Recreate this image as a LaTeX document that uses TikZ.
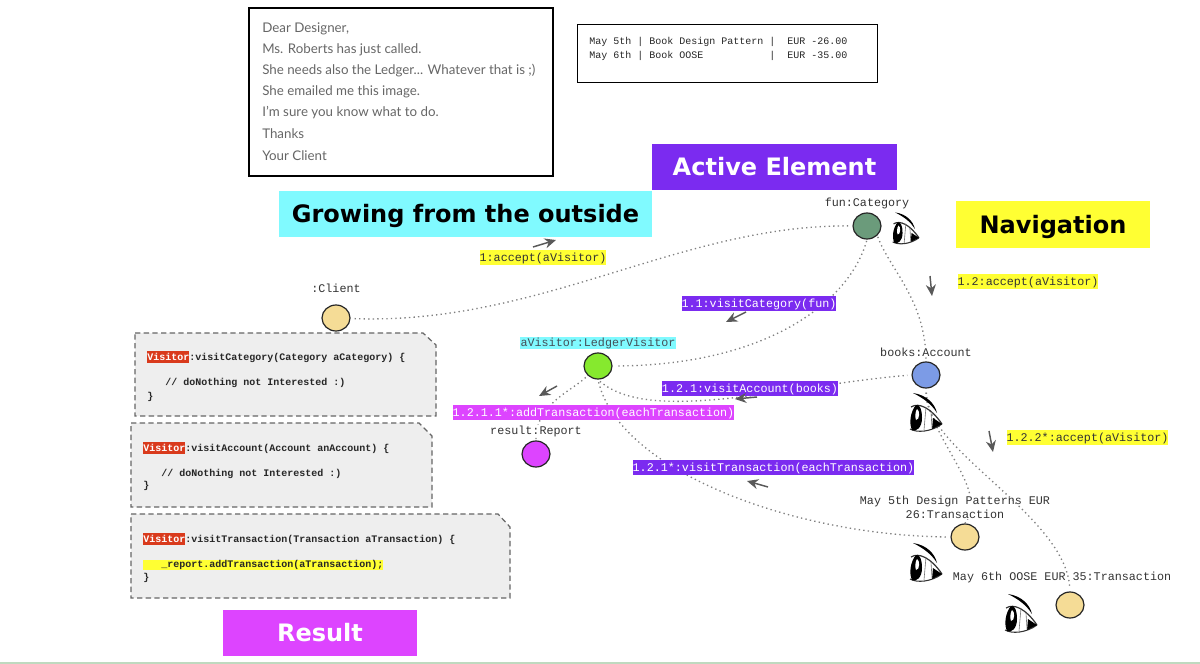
\documentclass[tikz,border=0pt]{standalone}
\usepackage{fontspec}
\setmainfont{Lato}
\setsansfont{DejaVu Sans}
\setmonofont{Liberation Mono}
\usetikzlibrary{arrows.meta,positioning,shapes.geometric}
\definecolor{violetbar}{HTML}{7B2BF0}
\definecolor{cyanbar}{HTML}{80FAFF}
\definecolor{yellowbar}{HTML}{FFFF33}
\definecolor{magentabar}{HTML}{DD44FF}
\definecolor{redbar}{HTML}{D93A1C}
\definecolor{notefill}{HTML}{EEEEEE}
\definecolor{funfill}{HTML}{6B9B7B}
\definecolor{plainfill}{HTML}{F5DC96}
\definecolor{visitorfill}{HTML}{86E92E}
\definecolor{booksfill}{HTML}{7C9BE6}
\newcommand{\vis}{{\setlength{\fboxsep}{0pt}\colorbox{redbar}{\rule[-2pt]{0pt}{9pt}\textcolor{white}{Visitor}}}}
\tikzset{
  object/.style={ellipse,draw=black!85,line width=0.9pt,minimum width=21pt,minimum height=19.5pt,inner sep=0pt},
  objname/.style={font=\ttfamily\fontsize{8.8}{10.5}\selectfont,text=black!80,inner sep=0.5pt,align=center},
  msg/.style={font=\ttfamily\fontsize{8.8}{10.5}\selectfont,inner xsep=0pt,inner ysep=1pt,text height=7pt,text depth=2pt,yshift=-0.6pt},
  msgviolet/.style={msg,fill=violetbar,text=white},
  msgmagenta/.style={msg,fill=magentabar,text=white},
  msgyellow/.style={msg,fill=yellowbar,text=black!80},
  link/.style={draw=black!50,line width=1pt,dash pattern=on 1pt off 2.4pt},
  flow/.style={draw=black!65,line width=1.1pt,-{Stealth[length=8.5pt,width=7.5pt]}},
  banner/.style={font=\sffamily\bfseries\fontsize{18}{20}\selectfont,anchor=center,text height=13pt,text depth=0pt},
  notebox/.style={draw=black!60,fill=notefill,line width=0.9pt,dash pattern=on 4pt off 2.5pt},
  codeline/.style={font=\ttfamily\bfseries\fontsize{7.5}{9}\selectfont,text=black!85,anchor=west,inner sep=0pt,text height=6pt,text depth=2pt},
  letterline/.style={font=\fontsize{10}{12}\selectfont,text=black!60,anchor=west,inner sep=0pt},
  eyemark/.pic={
    \fill[black] (-12,-19) .. controls (2,-17) and (10,-8) .. (12,1) .. controls (7,-7) and (0,-13) .. (-12,-19) -- cycle;
    \draw[black!80,line width=0.9pt] (-14,-5) .. controls (-6,-10) and (6,-4) .. (17,12);
    \draw[black!80,line width=0.8pt] (-15,17) .. controls (-8,21) and (6,20) .. (17,12);
    \fill[black] (17,12) -- (8,6) -- (7,17) -- cycle;
    \fill[black] (-9,-7) .. controls (-15,0) and (-16,12) .. (-13,18) .. controls (-9,20) and (-3,16) .. (-3,6) .. controls (-3,-2) and (-5,-8) .. (-9,-7) -- cycle;
    \fill[white] (-8,-3) .. controls (-10,0) and (-10,5) .. (-9,8) .. controls (-5,8) and (-5,-2) .. (-8,-3) -- cycle;
    \draw[black!55,line width=0.45pt] (1,-5) -- (-1,18) (6,0) -- (7,16);
  },
}
\begin{document}
\begin{tikzpicture}[x=0.75pt,y=-0.75pt]
\useasboundingbox (0,0) rectangle (1200,664);
\fill[green!40!black!25] (0,662) rectangle (1200,664);

% mail and ledger
\node[draw=black,line width=1.1pt,minimum width=228pt,minimum height=126pt,inner sep=0pt] (mail) at (401,92) {};
\foreach \ypos/\mailtext in {29/{Dear Designer,},50/{Ms. Roberts has just called.},71/{She needs also the Ledger{.}{.}{.} Whatever that is ;)},92/{She emailed me this image.},113/{I'm sure you know what to do.},134/{Thanks},156/{Your Client}}
  \node[letterline] at (262,\ypos) {\mailtext};
\node[draw=black,line width=1.1pt,minimum width=225pt,minimum height=43.5pt,inner sep=0pt,anchor=north west] (ledger) at (577,24) {};
\node[font=\ttfamily\fontsize{7.5}{10.5}\selectfont,align=left,text=black!85,anchor=north west,inner sep=0pt] (ledgertext) at (589,37)
  {May 5th | Book Design Pattern |~~EUR -26.00\\May 6th | Book OOSE~~~~~~~~~~~|~~EUR -35.00};

% banners
\node[banner,fill=violetbar,text=white,minimum width=183.75pt,minimum height=34.5pt] (active) at (774.5,167) {Active Element};
\node[banner,fill=cyanbar,minimum width=279.75pt,minimum height=34.5pt] (growing) at (465.5,214) {Growing from the outside};
\node[banner,fill=yellowbar,minimum width=145.5pt,minimum height=35.25pt] (navigation) at (1053,224.5) {Navigation};
\node[banner,fill=magentabar,text=white,minimum width=145.5pt,minimum height=34.5pt] (result) at (320,633) {Result};

% objects
\node[object,fill=funfill] (fun) at (867,226) {};
\node[object,fill=plainfill] (client) at (336,318) {};
\node[object,fill=visitorfill] (visitor) at (598,366) {};
\node[object,fill=booksfill] (books) at (926,375) {};
\node[object,fill=magentabar] (report) at (536,454) {};
\node[object,fill=plainfill] (first) at (965,537) {};
\node[object,fill=plainfill] (second) at (1070,605) {};

% links
\draw[link,shorten <=3pt,shorten >=3pt] (client) .. controls (540,325) and (680,225) .. (fun);
\draw[link,shorten <=1pt,shorten >=3pt] (fun.south) .. controls (850,300) and (770,365) .. (visitor.east);
\draw[link,shorten <=1pt] (fun.south east) .. controls (890,270) and (926,300) .. (books.north);
\draw[link,shorten <=2pt,shorten >=3pt] (visitor.south) .. controls (650,425) and (790,385) .. (books.west);
\draw[link,shorten <=2pt] (visitor.south west) .. controls (570,392) and (535,405) .. (report.north);
\draw[link,shorten <=2pt,shorten >=3pt] (visitor.south) .. controls (620,470) and (790,535) .. (first.west);
\draw[link,shorten <=3pt] (books.south) .. controls (930,440) and (990,490) .. (first.north);

% names and messages
\node[objname,above=2pt of fun] {fun:Category};
\node[objname,above=8pt of client] {:Client};
\node[objname,fill=cyanbar,text=black!75!cyan] at (598,343) {aVisitor:LedgerVisitor};
\node[objname,fill=white,above=2.75pt of books] {books:Account};
\node[objname,fill=white] at (536,431) {result:Report};
\node[objname,fill=white] at (955,507.5) {May 5th Design Patterns EUR\\26:Transaction};
\draw[link,shorten <=3pt,shorten >=3pt] (books.south) .. controls (925,450) and (1065,515) .. (second.north);
\node[objname,anchor=west] at (952,577) {May 6th OOSE EUR 35:Transaction};
\node[msgyellow] at (543,257) {1:accept(aVisitor)};
\node[msgviolet] at (759,303) {1.1:visitCategory(fun)};
\node[msgyellow] at (1028,281) {1.2:accept(aVisitor)};
\node[msgviolet] at (750,388) {1.2.1:visitAccount(books)};
\node[msgmagenta] at (593.5,412) {1.2.1.1*:addTransaction(eachTransaction)};
\node[msgyellow] at (1087.5,437) {1.2.2*:accept(aVisitor)};
\node[msgviolet] at (773.5,467) {1.2.1*:visitTransaction(eachTransaction)};

% arrows
\foreach \flowname/\xa/\ya/\xb/\yb in {a/533/247/556/240,b/746/312/726/322,c/930/276/932/296,d/557/386/539/396,e/757/397/735/399,f/768/487/747/481,g/989/431/993/452}{
  \coordinate (\flowname s) at (\xa,\ya);
  \coordinate (\flowname e) at (\xb,\yb);
  \draw[flow] (\flowname s) -- (\flowname e);
}

% eyes
\pic[scale=0.82] at (905,228) {eyemark};
\pic at (925,412) {eyemark};
\pic at (925,562) {eyemark};
\pic at (1020,613) {eyemark};

% notes
\draw[notebox] (135,333) -- (423,333) -- (436,345) -- (436,416) -- (135,416) -- cycle;
\draw[notebox] (131,423) -- (419,423) -- (432,436) -- (432,507) -- (131,507) -- cycle;
\draw[notebox] (131,514) -- (498,514) -- (510,527) -- (510,598) -- (131,598) -- cycle;
\node[codeline] at (147,358) {\vis:visitCategory(Category aCategory) \{};
\node[codeline] at (165,383) {// doNothing not Interested :)};
\node[codeline] at (147,397) {\}};
\node[codeline] at (143,449) {\vis:visitAccount(Account anAccount) \{};
\node[codeline] at (161,474) {// doNothing not Interested :)};
\node[codeline] at (143,486) {\}};
\node[codeline] at (143,540) {\vis:visitTransaction(Transaction aTransaction) \{};
\node[codeline,fill=yellowbar] at (143,565) {~~~\_report.addTransaction(aTransaction);};
\node[codeline] at (143,578) {\}};
\end{tikzpicture}
\end{document}
